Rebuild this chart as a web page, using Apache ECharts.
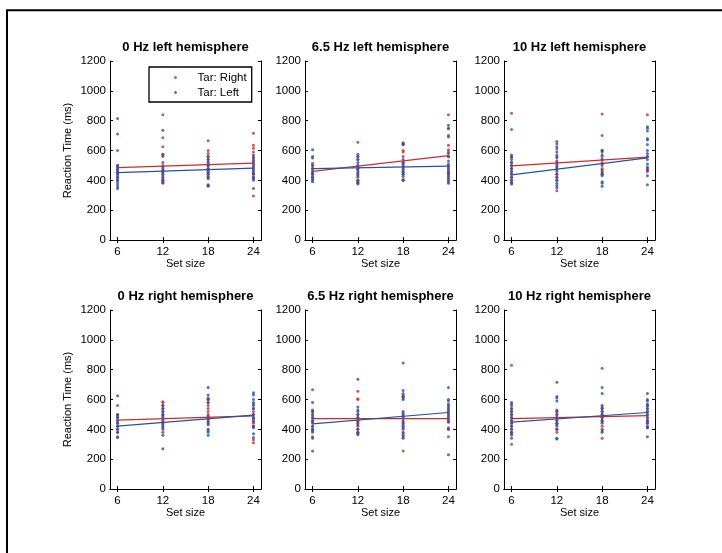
<!DOCTYPE html>
<html>
<head>
<meta charset="utf-8">
<script src="https://cdn.jsdelivr.net/npm/echarts@6/dist/echarts.min.js"></script>
<style>
html,body{margin:0;padding:0;background:#fff;}
#chart{width:722px;height:553px;}
</style>
</head>
<body>
<div id="chart"></div>
<script>
// ---- data ----
var setSizes = [6, 12, 18, 24];
var xTickLabels = ['6', '12', '18', '24'];
var yTicks = [0, 200, 400, 600, 800, 1000, 1200];
var yTickLabels = ['0', '200', '400', '600', '800', '1000', '1200'];
var panelTitles = ['0 Hz left hemisphere', '6.5 Hz left hemisphere', '10 Hz left hemisphere',
                   '0 Hz right hemisphere', '6.5 Hz right hemisphere', '10 Hz right hemisphere'];
var legendNames = ['Tar: Right', 'Tar: Left'];
var xAxisName = 'Set size';
var yAxisName = 'Reaction Time (ms)';

// reaction times per set size (6, 12, 18, 24); "Right" = red, "Left" = blue
var p1Right = [[710, 600, 500, 485, 470, 450, 430, 415, 400],
               [840, 685, 625, 560, 500, 480, 460, 440, 420, 400, 390, 380],
               [665, 600, 580, 560, 540, 520, 500, 480, 460, 440, 420, 365],
               [715, 635, 615, 590, 560, 540, 520, 500, 480, 460, 440, 420, 400, 295]];
var p1Left  = [[815, 500, 490, 475, 460, 450, 440, 420, 400, 385, 370, 355, 345],
               [735, 575, 570, 520, 490, 470, 460, 450, 430, 410, 400, 385],
               [560, 540, 520, 500, 480, 470, 455, 440, 425, 410, 370, 360],
               [570, 550, 530, 510, 490, 470, 450, 440, 420, 410, 345]];
var p2Right = [[515, 500, 480, 460, 450, 440, 425],
               [655, 560, 540, 500, 480, 460, 440, 420, 400, 380, 375],
               [650, 640, 600, 590, 560, 520, 500, 480, 460, 440, 405, 400],
               [840, 745, 690, 635, 605, 590, 560, 500, 480, 460, 450, 440, 420, 400]];
var p2Left  = [[605, 560, 550, 500, 480, 460, 440, 420, 410, 400, 390],
               [575, 560, 540, 520, 500, 480, 470, 450, 430, 400, 390, 385],
               [650, 640, 540, 520, 510, 490, 470, 455, 440, 425, 400],
               [770, 750, 700, 580, 560, 530, 510, 490, 470, 450, 430, 410, 390, 380]];
var p3Right = [[850, 740, 560, 520, 500, 480, 460, 440, 420, 400, 380],
               [610, 570, 550, 520, 500, 480, 460, 440, 420, 400, 330],
               [845, 700, 600, 560, 540, 520, 500, 480, 460, 440],
               [840, 560, 480, 470, 460]];
var p3Left  = [[570, 555, 540, 520, 500, 480, 460, 440, 420, 400, 385, 375],
               [660, 645, 625, 590, 560, 530, 510, 490, 470, 440, 420, 400, 380, 365, 350],
               [600, 590, 570, 540, 510, 470, 450, 440, 430, 390, 380, 360],
               [760, 750, 730, 680, 670, 640, 600, 580, 560, 540, 510, 490, 470, 430, 370]];
var p4Right = [[560, 500, 480, 460, 440, 420, 400, 380],
               [585, 580, 560, 540, 520, 500, 480, 460, 440, 420, 400],
               [600, 580, 560, 540, 520, 500, 480, 460, 440],
               [570, 540, 520, 500, 480, 470, 450, 440, 420, 330, 310]];
var p4Left  = [[625, 500, 490, 480, 460, 440, 420, 400, 380, 350, 345],
               [560, 540, 520, 500, 490, 470, 450, 430, 410, 380, 360, 270],
               [680, 630, 610, 600, 580, 490, 470, 450, 430, 400, 390, 380, 360],
               [645, 630, 600, 580, 560, 540, 500, 480, 460, 420, 410, 370, 345]];
var p5Right = [[665, 520, 500, 480, 460, 440, 420, 400],
               [655, 605, 600, 500, 480, 460, 440, 420, 400, 380],
               [640, 630, 620, 510, 490, 450, 430, 410, 370, 360, 255],
               [550, 530, 510, 490, 470, 450, 410, 400, 350]];
var p5Left  = [[580, 530, 520, 500, 480, 460, 450, 420, 400, 390, 380, 350, 340, 255],
               [735, 550, 530, 520, 500, 480, 460, 450, 430, 400, 380, 370, 365],
               [845, 660, 620, 610, 600, 520, 500, 480, 460, 440, 420, 400, 380, 350, 340],
               [680, 600, 590, 570, 560, 540, 520, 500, 480, 460, 450, 400, 230]];
var p6Right = [[830, 570, 540, 520, 500, 480, 460, 440, 420, 400, 380, 360, 300],
               [530, 520, 500, 480, 460, 440, 420, 400, 380],
               [810, 550, 540, 520, 500, 480, 460, 440, 420, 400, 340],
               [560, 540, 520, 500, 480, 460, 450, 440, 410]];
var p6Left  = [[580, 560, 540, 520, 500, 480, 460, 440, 420, 400, 380, 370, 340],
               [715, 620, 610, 590, 520, 500, 480, 460, 440, 430, 400, 340, 335],
               [680, 640, 560, 540, 520, 500, 480, 460, 450, 390, 380],
               [640, 600, 590, 570, 560, 540, 520, 500, 480, 460, 440, 420, 410, 350]];

// fitted line values at set size 6 and 24, per panel
var fitRight = [[485, 515], [460, 565], [497, 555], [462, 490], [472, 472], [472, 492]];
var fitLeft  = [[452, 482], [478, 495], [437, 550], [422, 495], [437, 513], [448, 513]];

// ---- build ----
var rightData = [p1Right, p2Right, p3Right, p4Right, p5Right, p6Right];
var leftData = [p1Left, p2Left, p3Left, p4Left, p5Left, p6Left];

var RED = '#cc2b2b';
var BLUE = '#2451a8';
var FONT = 'Liberation Sans';
var colLeft = [110, 305, 504];
var rowTop = [61, 310];
var gw = 151, gh = 179;

function toPoints(groups) {
  var pts = [];
  groups.forEach(function (vals, i) {
    vals.forEach(function (v) { pts.push([setSizes[i], v]); });
  });
  return pts;
}

var grids = [], xAxes = [], yAxes = [], series = [], titles = [];
for (var p = 0; p < 6; p++) {
  var r = Math.floor(p / 3), c = p % 3;
  grids.push({left: colLeft[c], top: rowTop[r], width: gw, height: gh, containLabel: false});
  var axLine = {show: true, lineStyle: {color: '#000', width: 1}};
  var tick = {show: true, inside: true, length: 3, lineStyle: {color: '#000', width: 1}};
  var xBase = {type: 'value', gridIndex: p, min: 5, max: 25, splitLine: {show: false}, axisLine: axLine};
  xAxes.push(Object.assign({}, xBase, {
    position: 'bottom',
    axisTick: Object.assign({}, tick, {customValues: setSizes}),
    axisLabel: {customValues: setSizes, color: '#000', fontFamily: FONT, fontSize: 11.5, margin: 6,
                formatter: function (v) { return xTickLabels[setSizes.indexOf(v)]; }},
    name: xAxisName, nameLocation: 'middle', nameGap: 18,
    nameTextStyle: {color: '#000', fontFamily: FONT, fontSize: 11}
  }));
  xAxes.push(Object.assign({}, xBase, {
    position: 'top',
    axisTick: Object.assign({}, tick, {customValues: setSizes}),
    axisLabel: {show: false}
  }));
  var yBase = {type: 'value', gridIndex: p, min: yTicks[0], max: yTicks[yTicks.length - 1], interval: 200,
               splitLine: {show: false}, axisLine: axLine, axisTick: tick};
  var yMain = Object.assign({}, yBase, {
    position: 'left',
    axisLabel: {color: '#000', fontFamily: FONT, fontSize: 11.5, margin: 4,
                formatter: function (v) { var i = yTicks.indexOf(v); return i >= 0 ? yTickLabels[i] : String(v); }}
  });
  if (c === 0) {
    yMain.name = yAxisName;
    yMain.nameLocation = 'middle';
    yMain.nameGap = 37;
    yMain.nameRotate = 90;
    yMain.nameTextStyle = {color: '#000', fontFamily: FONT, fontSize: 11};
  }
  yAxes.push(yMain);
  yAxes.push(Object.assign({}, yBase, {position: 'right', axisLabel: {show: false}}));

  var cx = colLeft[c] + gw / 2;
  titles.push({text: panelTitles[p], left: cx, top: rowTop[r] - 20, textAlign: 'center', padding: 0,
               textStyle: {fontFamily: FONT, fontSize: 13, fontWeight: 'bold', color: '#000'}});

  series.push({type: 'scatter', name: legendNames[0], xAxisIndex: 2 * p, yAxisIndex: 2 * p,
               data: toPoints(rightData[p]), symbol: 'circle', symbolSize: 3,
               itemStyle: {color: RED}, silent: true, z: 2});
  series.push({type: 'scatter', name: legendNames[1], xAxisIndex: 2 * p, yAxisIndex: 2 * p,
               data: toPoints(leftData[p]), symbol: 'circle', symbolSize: 3,
               itemStyle: {color: BLUE}, silent: true, z: 2});
  series.push({type: 'line', name: 'fitR' + p, xAxisIndex: 2 * p, yAxisIndex: 2 * p,
               data: [[setSizes[0], fitRight[p][0]], [setSizes[3], fitRight[p][1]]],
               showSymbol: false, symbol: 'none', lineStyle: {color: RED, width: 1.2}, silent: true, z: 3});
  series.push({type: 'line', name: 'fitL' + p, xAxisIndex: 2 * p, yAxisIndex: 2 * p,
               data: [[setSizes[0], fitLeft[p][0]], [setSizes[3], fitLeft[p][1]]],
               showSymbol: false, symbol: 'none', lineStyle: {color: BLUE, width: 1.2}, silent: true, z: 3});
}

var chart = echarts.init(document.getElementById('chart'), null, {renderer: 'canvas'});
chart.setOption({
  backgroundColor: '#fff',
  animation: false,
  title: titles,
  grid: grids,
  xAxis: xAxes,
  yAxis: yAxes,
  legend: {
    data: [{name: legendNames[0], icon: 'circle'}, {name: legendNames[1], icon: 'circle'}],
    orient: 'vertical', left: 149, top: 67,
    padding: [4, 5, 3, 25], itemGap: 2, itemWidth: 34, itemHeight: 3,
    borderColor: '#000', borderWidth: 1.3, backgroundColor: '#fff',
    selectedMode: false,
    textStyle: {fontFamily: FONT, fontSize: 11.5, color: '#000', lineHeight: 13}
  },
  graphic: [{
    type: 'polyline', silent: true,
    shape: {points: [[7, 553], [7, 10.3], [722, 10.3]]},
    style: {stroke: '#000', lineWidth: 2, fill: null}
  }],
  series: series
});
</script>
</body>
</html>
